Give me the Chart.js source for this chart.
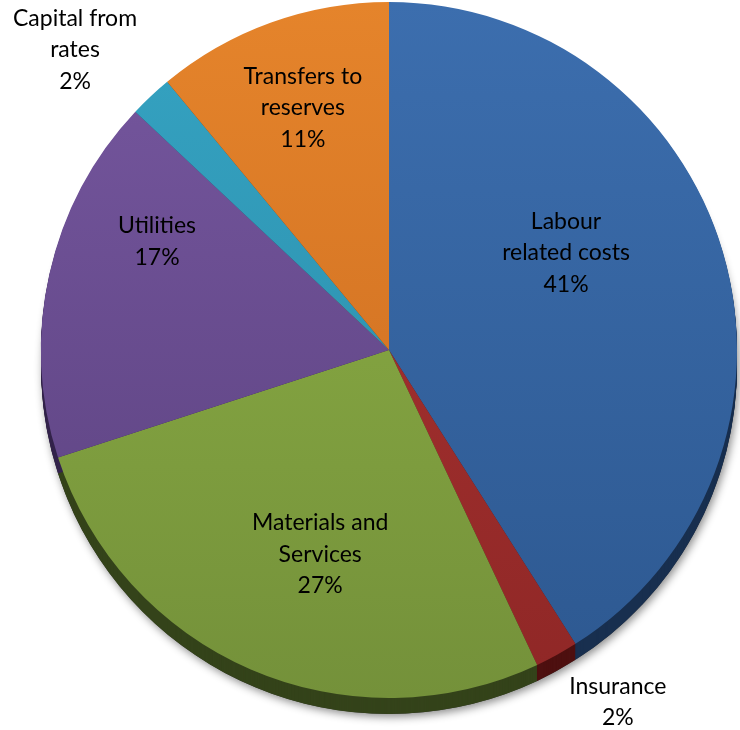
<!DOCTYPE html>
<html>
<head>
<meta charset="utf-8">
<script src="https://cdn.jsdelivr.net/npm/chart.js@4.4.1/dist/chart.umd.min.js"></script>
<style>
  html, body { margin: 0; padding: 0; background: #fff; }
  #wrap { width: 740px; height: 730px; position: relative; }
</style>
</head>
<body>
<div id="wrap"><canvas id="costPie"></canvas></div>
<script>
// Budget split by cost category (percent of total)
const categories = ['Labour related costs', 'Insurance', 'Materials and Services', 'Utilities', 'Capital from rates', 'Transfers to reserves'];
const shares = [41, 2, 27, 17, 2, 11];
const labelLines = [['Labour', 'related costs'], ['Insurance'], ['Materials and', 'Services'], ['Utilities'], ['Capital from', 'rates'], ['Transfers to', 'reserves']];

// face colours (top, bottom of gradient) and the darker rim colour
const faceTop = ['#3c6eae', '#ad3533', '#8fb246', '#76579f', '#35a3c2', '#e5842b'];
const faceBottom = ['#2d5890', '#8f2726', '#74913a', '#5a417e', '#2a89a6', '#c8691f'];
const rimColors = ['#182f4f', '#4e1010', '#34431a', '#34244c', '#155064', '#6a3510'];

// label anchor: fraction of radius and angle nudge (deg) from the slice middle
const labelPlace = [[0.58, -12.5], [1.207, -4.2], [0.62, -4.8], [0.736, 12.5], [1.248, -3.1], [0.738, 0.2]];

const depth = 16;

function faceFill(context) {
  const chart = context.chart;
  const area = chart.chartArea;
  if (!area) return faceTop[context.dataIndex];
  const g = chart.ctx.createLinearGradient(0, area.top, 0, area.bottom);
  g.addColorStop(0, faceTop[context.dataIndex]);
  g.addColorStop(1, faceBottom[context.dataIndex]);
  return g;
}

// draws the rim under the pie so it looks like a thick disc
const pieRim = {
  id: 'pieRim',
  beforeDatasetsDraw(chart) {
    const ctx = chart.ctx;
    const arcs = chart.getDatasetMeta(0).data;
    if (!arcs.length) return;
    const { x, y, outerRadius } = arcs[0].getProps(['x', 'y', 'outerRadius'], true);

    // soft drop shadow under the disc
    ctx.save();
    ctx.shadowColor = 'rgba(0,0,0,0.45)';
    ctx.shadowBlur = 9;
    ctx.shadowOffsetX = 2;
    ctx.shadowOffsetY = 3;
    ctx.fillStyle = '#333';
    ctx.beginPath();
    ctx.arc(x, y + depth, outerRadius, 0, Math.PI * 2);
    ctx.fill();
    ctx.restore();

    ctx.save();
    arcs.forEach((arc, i) => {
      const p = arc.getProps(['x', 'y', 'startAngle', 'endAngle', 'outerRadius'], true);
      ctx.fillStyle = rimColors[i];
      for (let d = depth; d >= 1; d--) {
        ctx.beginPath();
        ctx.moveTo(p.x, p.y + d);
        ctx.arc(p.x, p.y + d, p.outerRadius, p.startAngle, p.endAngle);
        ctx.closePath();
        ctx.fill();
      }
    });
    ctx.restore();
  }
};

// category name and share written on or beside each slice
const sliceLabels = {
  id: 'sliceLabels',
  afterDatasetsDraw(chart) {
    const ctx = chart.ctx;
    const arcs = chart.getDatasetMeta(0).data;
    const total = shares.reduce((a, b) => a + b, 0);
    ctx.save();
    ctx.font = '23px Lato, "Open Sans", sans-serif';
    ctx.fillStyle = '#000';
    ctx.textAlign = 'center';
    ctx.textBaseline = 'middle';
    const lineH = 31.5;
    arcs.forEach((arc, i) => {
      const p = arc.getProps(['x', 'y', 'startAngle', 'endAngle', 'outerRadius'], true);
      const [frac, nudge] = labelPlace[i];
      const mid = (p.startAngle + p.endAngle) / 2 + nudge * Math.PI / 180;
      const cx = p.x + Math.cos(mid) * p.outerRadius * frac;
      const cy = p.y + Math.sin(mid) * p.outerRadius * frac;
      const lines = labelLines[i].concat([Math.round(shares[i] / total * 100) + '%']);
      const top = cy - (lines.length - 1) * lineH / 2;
      lines.forEach((t, k) => ctx.fillText(t, cx, top + k * lineH));
    });
    ctx.restore();
  }
};

new Chart(document.getElementById('costPie'), {
  type: 'pie',
  data: {
    labels: categories,
    datasets: [{
      data: shares,
      backgroundColor: faceFill,
      borderWidth: 0,
      hoverOffset: 0
    }]
  },
  options: {
    responsive: true,
    maintainAspectRatio: false,
    animation: false,
    events: [],
    layout: { padding: { left: 41, right: 3, top: 2, bottom: 32 } },
    plugins: {
      legend: { display: false },
      tooltip: { enabled: false }
    }
  },
  plugins: [pieRim, sliceLabels]
});
</script>
</body>
</html>
